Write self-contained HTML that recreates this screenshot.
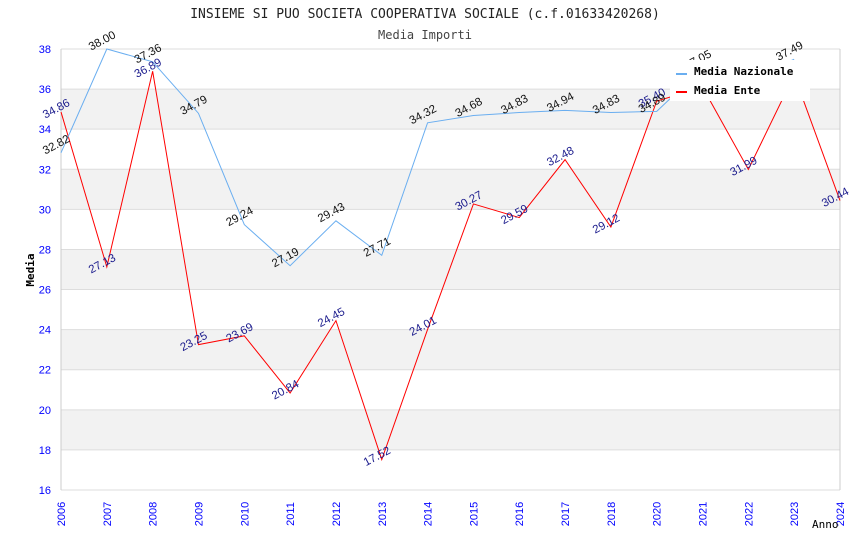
<!DOCTYPE html>
<html><head><meta charset="utf-8"><style>
body{margin:0;background:#fff;}
svg{display:block;font-family:"DejaVu Sans Mono","Liberation Mono",monospace;}
</style></head><body>
<svg id="chart" width="850" height="550">
<text x="425" y="18" text-anchor="middle" font-size="13" fill="#222">INSIEME SI PUO SOCIETA COOPERATIVA SOCIALE (c.f.01633420268)</text>
<text x="425" y="39" text-anchor="middle" font-size="12" fill="#444">Media Importi</text>
<g id="grid"></g>
<g id="series"></g>
<g id="labels" font-family="Liberation Sans, sans-serif" font-size="11.5"></g>
<text x="34" y="270" font-size="11" font-weight="bold" fill="#000" transform="rotate(-90 34 270)" text-anchor="middle">Media</text>
<text x="812" y="528" font-size="11" fill="#000">Anno</text>
<g>
<rect x="670" y="60" width="140" height="41" fill="#fff"/>
<line x1="676" y1="74" x2="687" y2="74" stroke="#6aaef0" stroke-width="2"/>
<text x="694" y="75" font-size="11" font-weight="bold">Media Nazionale</text>
<line x1="676" y1="92" x2="687" y2="92" stroke="#f00" stroke-width="2"/>
<text x="694" y="94" font-size="11" font-weight="bold">Media Ente</text>
</g>
</svg>
<script>
const years = ["2006","2007","2008","2009","2010","2011","2012","2013","2014","2015","2016","2017","2018","2020","2021","2022","2023","2024"];
const nazionale = [32.82,38.00,37.36,34.79,29.24,27.19,29.43,27.71,34.32,34.68,34.83,34.94,34.83,34.89,37.05,36.46,37.49,null];
const ente = [34.86,27.13,36.89,23.25,23.69,20.84,24.45,17.52,24.01,30.27,29.59,32.48,29.12,35.40,36.10,31.99,36.70,30.44];
const yTicks = [16,18,20,22,24,26,28,30,32,34,36,38];
const X0=61,X1=840,Y0=490,Y1=49,YMIN=16,YMAX=38;
const xs=i=>X0+(X1-X0)*i/(years.length-1);
const ys=v=>Y0-(v-YMIN)/(YMAX-YMIN)*(Y0-Y1);
const NS="http://www.w3.org/2000/svg";
function mk(t,a,p){const e=document.createElementNS(NS,t);for(const k in a)e.setAttribute(k,a[k]);p.appendChild(e);return e;}
const grid=document.getElementById('grid');
for(let i=0;i<yTicks.length-1;i++){
  const r=mk('rect',{x:X0,y:ys(yTicks[i+1]),width:X1-X0,height:ys(yTicks[i])-ys(yTicks[i+1]),fill:(i%2==1)?'#f2f2f2':'#fff'},grid);
  
  
}
yTicks.forEach(v=>{
  const l=mk('line',{x1:X0,x2:X1,y1:ys(v),y2:ys(v),stroke:'#ddd'},grid);
  
  
  const t=mk('text',{x:X0-10,y:ys(v)+4,'text-anchor':'end','font-size':11,fill:'#00f','font-family':'Liberation Sans, sans-serif'},grid);
  t.textContent=v;
  
  
});
mk('line',{x1:X0,x2:X0,y1:Y1,y2:Y0,stroke:'#ccc'},grid);
mk('line',{x1:X1,x2:X1,y1:Y1,y2:Y0,stroke:'#ccc'},grid);
years.forEach((y,i)=>{
  const x=xs(i),yy=Y0+24;
  const t=mk('text',{x:x+4,y:yy,'text-anchor':'middle','font-size':11,fill:'#00f','font-family':'Liberation Sans, sans-serif',transform:`rotate(-90 ${x+4} ${yy})`},grid);
  t.textContent=y;
  
  
});
const ser=document.getElementById('series'),lab=document.getElementById('labels');
function draw(data,color,name,lc,dx,dy){
  let d='';
  data.forEach((v,i)=>{if(v==null)return;d+=(d?'L':'M')+xs(i)+','+ys(v);});
  const p=mk('path',{d:d,fill:'none',stroke:color,'stroke-width':1},ser);
  
  
  data.forEach((v,i)=>{if(v==null)return;
    const x=xs(i)+dx,y=ys(v)+dy;
    const t=mk('text',{x:x,y:y,'text-anchor':'middle',fill:lc,transform:`rotate(-28 ${x} ${y})`},lab);
    t.textContent=v.toFixed(2);
    
    
  });
}
draw(ente,'#f00','ente','#1a1a8c',-3,0);
draw(nazionale,'#6aaef0','nazionale','#111',-3,-5);
</script>
</body></html>
